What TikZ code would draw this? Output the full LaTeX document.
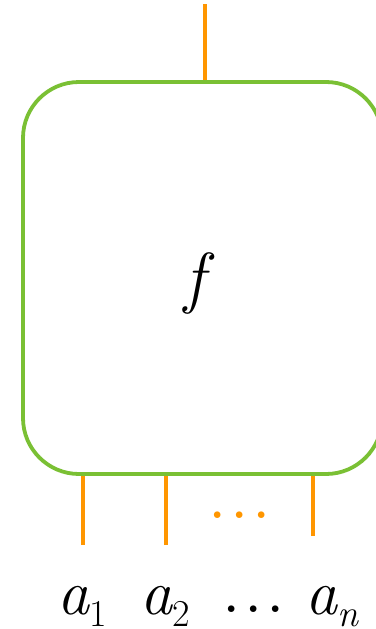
\documentclass[tikz,border=0pt]{standalone}
\usepackage{fontspec}
\definecolor{boxgreen}{RGB}{122,192,52}
\definecolor{wireorange}{RGB}{255,150,0}
\newcommand{\subsz}[1]{\raisebox{-0.2em}{\fontsize{38}{44}\selectfont\upshape #1}}
\begin{document}
\begin{tikzpicture}[x=1pt,y=-1pt,
  fbox/.style={draw=boxgreen,line width=3.8pt,rounded corners=56pt,minimum width=359pt,minimum height=392pt,inner sep=0pt},
  wire/.style={draw=wireorange,line width=3.8pt},
  lbl/.style={anchor=base,inner sep=0pt,font=\fontsize{64}{72}\selectfont\itshape},
  dotlbl/.style={anchor=base,inner sep=0pt,font=\fontsize{46}{54}\selectfont\bfseries}]
\useasboundingbox (0,0) rectangle (375,629);
\node[fbox] (box) at (202.5,278) {};
\node[lbl,font=\fontsize{68}{76}\selectfont\itshape] (f) at (195,300) {f};
\coordinate (top) at (205,4);
\coordinate (b1) at (83,545);
\coordinate (b2) at (166,545);
\coordinate (bn) at (313,536);
\draw[wire] (top) -- (top |- box.north);
\draw[wire] (b1) -- (b1 |- box.south);
\draw[wire] (b2) -- (b2 |- box.south);
\draw[wire] (bn) -- (bn |- box.south);
\node[dotlbl,text=wireorange] (dots) at (240,518) {.\,.\,.};
\node[lbl] (a1) at (82,614) {a\subsz{1}};
\node[lbl] (a2) at (165,614) {a\subsz{2}};
\node[dotlbl] (ld) at (254,612) {.\,.\,.};
\node[lbl] (an) at (332,614) {a\subsz{\itshape n}};
\end{tikzpicture}
\end{document}
